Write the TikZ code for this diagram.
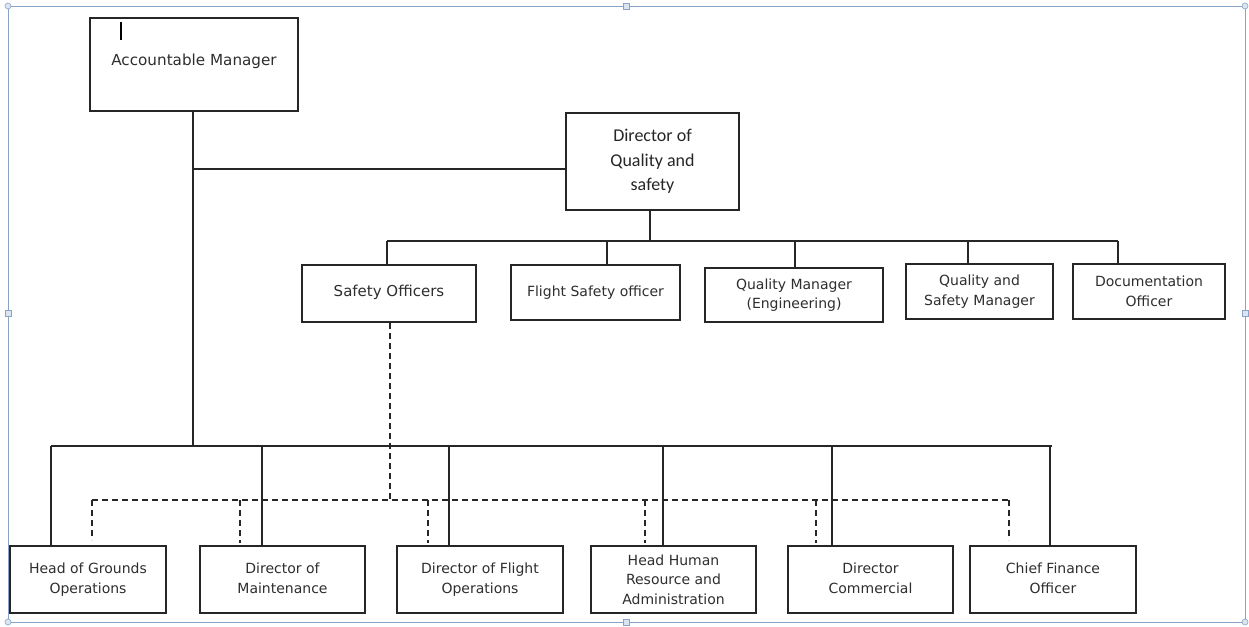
\documentclass[tikz,border=0pt]{standalone}
\usepackage{fontspec}
\setmainfont{DejaVu Sans}
\newfontfamily\calib{Carlito}
\definecolor{frm}{HTML}{8AA4C8}
\definecolor{hnd}{HTML}{DCE6F2}
\definecolor{txt}{HTML}{2E2E2E}
\newcommand{\uptwo}[2]{\raisebox{4pt}{\begin{tabular}{@{}c@{}}#1\\#2\end{tabular}}}
\begin{document}
\begin{tikzpicture}[x=1pt,y=-1pt,
  box/.style={draw=black!85,line width=1.6pt,fill=white,inner sep=2pt,align=center,
    font=\fontsize{14}{19.5}\selectfont,text=txt},
  conn/.style={draw=black!85,line width=1.5pt},
  dconn/.style={draw=black!85,line width=1.4pt,dash pattern=on 6pt off 4pt},
  handle/.style={draw=frm,fill=hnd,line width=0.6pt}]
\useasboundingbox (0,0) rectangle (1249,626);
% canvas frame
\draw[frm,line width=0.8pt] (8,6) rectangle (1245,622);
\foreach \p in {(626,6),(8,313),(1245,313),(626,622)}
  \path[handle] \p ++(-3,-3) rectangle ++(6,6);
\foreach \p in {(8,6),(1245,6),(8,622),(1245,622)}
  \path[handle] \p circle (3);
% nodes
\node[box,minimum width=208,minimum height=93,font=\fontsize{15.2}{18}\selectfont] (am) at (194,64.5) {\raisebox{9pt}{Accountable Manager}};
\draw[black,line width=1.2pt] (121,22) -- (121,40);
\node[box,minimum width=173,minimum height=97,font=\calib\fontsize{18}{24.5}\selectfont,text=black!85] (dqs) at (652.5,161.5) {Director of\\Quality and\\safety};
\node[box,minimum width=174,minimum height=57,font=\fontsize{15}{18}\selectfont] (so) at (389,293.5) {\raisebox{5pt}{Safety Officers}};
\node[box,minimum width=169,minimum height=55] (fso) at (595.5,292.5) {\raisebox{3pt}{Flight Safety officer}};
\node[box,minimum width=178,minimum height=54] (qm) at (794,295) {Quality Manager\\(Engineering)};
\node[box,minimum width=147,minimum height=55] (qsm) at (979.5,291.5) {Quality and\\Safety Manager};
\node[box,minimum width=152,minimum height=55] (doc) at (1149,291.5) {Documentation\\Officer};
\node[box,minimum width=156,minimum height=67] (hgo) at (88,579.5) {\uptwo{Head of Grounds}{Operations}};
\node[box,minimum width=165,minimum height=67] (dom) at (282.5,579.5) {\uptwo{Director of}{Maintenance}};
\node[box,minimum width=166,minimum height=67] (dfo) at (480,579.5) {\uptwo{Director of Flight}{Operations}};
\node[box,minimum width=165,minimum height=67] (hhr) at (673.5,579.5) {Head Human\\Resource and\\Administration};
\node[box,minimum width=165,minimum height=67] (dc) at (870.5,579.5) {\uptwo{Director}{Commercial}};
\node[box,minimum width=166,minimum height=67] (cfo) at (1053,579.5) {\uptwo{Chief Finance}{Officer}};
% coordinates
\coordinate (j1) at (193,169);
\coordinate (bb) at (193,446);
\coordinate (tl) at (387,241);
\coordinate (tr) at (1118,241);
\coordinate (bl) at (51,446);
\coordinate (br) at (1052,446);
\coordinate (dl) at (92,500);
\coordinate (dr) at (1009,500);
% top part
\draw[conn] (am.south -| bb) -- (bb);
\draw[conn] (j1) -- (dqs.west |- j1);
\draw[conn] (dqs.south -| 650,0) -- (650,241);
\draw[conn] (tl) -- (tr);
\draw[conn] (tl) -- (so.north -| tl);
\draw[conn] (607,241) -- (fso.north -| 607,0);
\draw[conn] (795,241) -- (qm.north -| 795,0);
\draw[conn] (968,241) -- (qsm.north -| 968,0);
\draw[conn] (tr) -- (doc.north -| tr);
% bottom solid bus
\draw[conn] (bl) -- (br);
\draw[conn] (bl) -- (hgo.north -| bl);
\draw[conn] (262,446) -- (dom.north -| 262,0);
\draw[conn] (449,446) -- (dfo.north -| 449,0);
\draw[conn] (663,446) -- (hhr.north -| 663,0);
\draw[conn] (832,446) -- (dc.north -| 832,0);
\draw[conn] (1050,446) -- (cfo.north -| 1050,0);
% dashed
\draw[dconn] (so.south -| 390,0) -- (390,500);
\draw[dconn] (dl) -- (dr);
\draw[dconn] (dl) -- (92,540);
\draw[dconn] (240,500) -- (240,543);
\draw[dconn] (428,500) -- (428,543);
\draw[dconn] (645,500) -- (645,543);
\draw[dconn] (816,500) -- (816,543);
\draw[dconn] (dr) -- (1009,540);
\end{tikzpicture}
\end{document}
